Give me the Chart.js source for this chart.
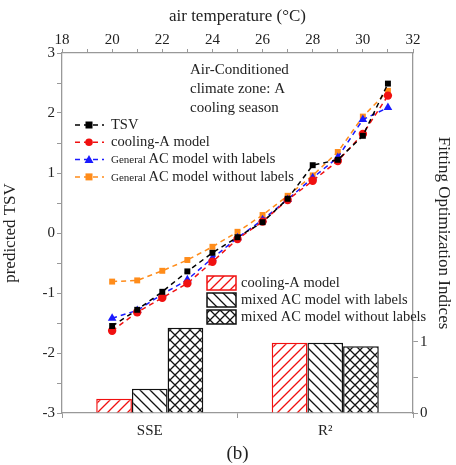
<!DOCTYPE html>
<html>
<head>
<meta charset="utf-8">
<script src="https://cdn.jsdelivr.net/npm/chart.js@4.4.1/dist/chart.umd.min.js"></script>
<style>
  html, body { margin: 0; padding: 0; background: #fff; }
  #wrap { position: relative; width: 456px; height: 465px; }
  #wrap canvas { position: absolute; left: 0; top: 0; }
</style>
</head>
<body>
<div id="wrap">
  <canvas id="bars" width="456" height="465"></canvas>
  <canvas id="lines" width="456" height="465"></canvas>
</div>
<script>
// air temperature (top axis)
var temps = [20, 21, 22, 23, 24, 25, 26, 27, 28, 29, 30, 31];
var tsv = [-1.55, -1.28, -0.98, -0.64, -0.33, -0.07, 0.18, 0.57, 1.13, 1.22, 1.62, 2.49];
var coolingA = [-1.63, -1.32, -1.08, -0.84, -0.48, -0.10, 0.19, 0.55, 0.87, 1.20, 1.65, 2.29];
var generalWith = [-1.42, -1.29, -1.02, -0.78, -0.42, -0.08, 0.22, 0.56, 0.92, 1.26, 1.89, 2.09];
var generalWithout = [-0.81, -0.79, -0.63, -0.45, -0.23, 0.02, 0.30, 0.62, 0.96, 1.35, 1.94, 2.37];

// fitting indices (bottom axis)
var indices = ["SSE", "R\u00B2"];
var barCoolingA = [0.20, 0.99];
var barMixedWith = [0.34, 0.99];
var barMixedWithout = [1.20, 0.94];

var serif = "'Liberation Serif', 'DejaVu Serif', serif";
var ink = "#222";
var axisGrey = "#999";
var tickFont = {family: serif, size: 15};
var titleFont = {family: serif, size: 17};

// box sizes shared by both charts so the plot areas line up
var LEFT = 62, RIGHT = 43, TOP = 53, BOTTOM = 52;

function hatch(color, dirs) {
    var c = document.createElement("canvas");
    c.width = 10; c.height = 10;
    var x = c.getContext("2d");
    x.fillStyle = "#fff";
    x.fillRect(0, 0, 10, 10);
    x.strokeStyle = color;
    x.lineWidth = 1.3;
    x.beginPath();
    if (dirs.indexOf("/") >= 0) {
        x.moveTo(-1, 11); x.lineTo(11, -1);
        x.moveTo(-6, 6); x.lineTo(6, -6);
        x.moveTo(4, 16); x.lineTo(16, 4);
    }
    if (dirs.indexOf("\\") >= 0) {
        x.moveTo(-1, -1); x.lineTo(11, 11);
        x.moveTo(-6, 4); x.lineTo(6, 16);
        x.moveTo(4, -6); x.lineTo(16, 6);
    }
    x.stroke();
    return c.getContext("2d").createPattern(c, "repeat");
}

function pts(ys) {
    return temps.map(function (t, i) { return {x: t, y: ys[i]}; });
}

function lineSet(label, ys, color, style) {
    return {
        label: label, data: pts(ys),
        borderColor: color, backgroundColor: color,
        borderWidth: 1.5, borderDash: [5, 4],
        pointStyle: style, pointRadius: style === "triangle" ? 5 : 4.2,
        pointBorderWidth: 0, tension: 0
    };
}

function barSet(label, vals, color, dirs) {
    return {
        label: label, data: vals,
        backgroundColor: hatch(color, dirs),
        borderColor: color, borderWidth: 1.5,
        barPercentage: 1, categoryPercentage: 0.61
    };
}

function fix(size, key) {
    return function (scale) { scale[key] = size; };
}

var lineLegend = {
    id: "lineLegend",
    afterDraw: function (chart) {
        var ctx = chart.ctx;
        ctx.save();
        ctx.fillStyle = ink;
        ctx.font = "15px " + serif;
        ctx.textBaseline = "middle";
        ctx.textAlign = "left";
        ["Air-Conditioned", "climate zone: A", "cooling season"].forEach(function (s, i) {
            ctx.fillText(s, 190, 70 + i * 19);
        });

        chart.data.datasets.forEach(function (d, i) {
            var y = 125 + i * 17.3;
            ctx.strokeStyle = d.borderColor;
            ctx.lineWidth = 1.5;
            ctx.setLineDash([5, 4]);
            ctx.beginPath();
            ctx.moveTo(75, y); ctx.lineTo(104, y);
            ctx.stroke();
            ctx.setLineDash([]);
            ctx.fillStyle = d.borderColor;
            var mx = 89;
            if (d.pointStyle === "rect") {
                ctx.fillRect(mx - 3.5, y - 3.5, 7, 7);
            } else if (d.pointStyle === "circle") {
                ctx.beginPath(); ctx.arc(mx, y, 3.8, 0, Math.PI * 2); ctx.fill();
            } else {
                ctx.beginPath(); ctx.moveTo(mx, y - 4.5); ctx.lineTo(mx + 4.5, y + 3.5); ctx.lineTo(mx - 4.5, y + 3.5); ctx.closePath(); ctx.fill();
            }
            ctx.fillStyle = ink;
            var x = 111;
            var label = d.label;
            if (label.indexOf("General ") === 0) {
                ctx.font = "11px " + serif;
                ctx.fillText("General", x, y + 1);
                x += ctx.measureText("General ").width;
                label = label.substring(8);
            }
            ctx.font = "14.5px " + serif;
            ctx.fillText(label, x, y);
        });
        ctx.restore();
    }
};

var barLegend = {
    id: "barLegend",
    afterDraw: function (chart) {
        var ctx = chart.ctx;
        ctx.save();
        ctx.textBaseline = "middle";
        ctx.textAlign = "left";
        chart.data.datasets.forEach(function (d, i) {
            var y = 283 + i * 17;
            ctx.fillStyle = d.backgroundColor;
            ctx.fillRect(207, y - 7, 29, 14);
            ctx.strokeStyle = d.borderColor;
            ctx.lineWidth = 1.5;
            ctx.strokeRect(207, y - 7, 29, 14);
            ctx.fillStyle = ink;
            ctx.font = "14.5px " + serif;
            ctx.fillText(d.label, 241, y);
        });
        ctx.restore();
    }
};

var common = {
    responsive: false,
    animation: false,
    plugins: {legend: {display: false}, tooltip: {enabled: false}}
};

// bottom / right axes: the bar chart
new Chart(document.getElementById("bars").getContext("2d"), {
    type: "bar",
    data: {
        labels: indices,
        datasets: [
            barSet("cooling-A model", barCoolingA, "#f01010", "/"),
            barSet("mixed AC model with labels", barMixedWith, "#111", "\\"),
            barSet("mixed AC model without labels", barMixedWithout, "#111", "/\\")
        ]
    },
    options: Object.assign({}, common, {
        layout: {padding: {left: LEFT, top: TOP, right: 0, bottom: 0}},
        scales: {
            x: {
                type: "category", position: "bottom", offset: true,
                afterFit: fix(BOTTOM, "height"),
                border: {color: axisGrey, width: 1.3},
                grid: {offset: true, drawOnChartArea: false, tickLength: 5, color: axisGrey},
                ticks: {color: ink, font: tickFont, padding: 4},
                title: {display: true, text: "(b)", color: ink, font: {family: serif, size: 19}, padding: {top: 0, bottom: 0}}
            },
            y: {
                type: "linear", position: "right", min: 0, max: 5.07,
                afterFit: fix(RIGHT, "width"),
                afterBuildTicks: function (scale) {
                    scale.ticks = [{value: 0}, {value: 0.5}, {value: 1}];
                },
                border: {color: axisGrey, width: 1.3},
                grid: {drawOnChartArea: false, tickLength: 5, color: axisGrey},
                ticks: {
                    color: ink, font: tickFont, padding: 2,
                    callback: function (v) { return v === 0 || v === 1 ? v : ""; }
                },
                title: {display: true, text: "Fitting Optimization Indices", color: ink, font: titleFont, padding: {top: 2, bottom: 0}}
            }
        }
    }),
    plugins: [barLegend]
});

// top / left axes: the line chart on top
new Chart(document.getElementById("lines").getContext("2d"), {
    type: "line",
    data: {
        datasets: [
            lineSet("TSV", tsv, "#000", "rect"),
            lineSet("cooling-A model", coolingA, "#f01010", "circle"),
            lineSet("General AC model with labels", generalWith, "#1a1aff", "triangle"),
            lineSet("General AC model without labels", generalWithout, "#ff8c1a", "rect")
        ]
    },
    options: Object.assign({}, common, {
        layout: {padding: {left: 0, top: 0, right: RIGHT, bottom: BOTTOM}},
        scales: {
            x: {
                type: "linear", position: "top", min: 18, max: 32,
                afterFit: fix(TOP, "height"),
                border: {color: axisGrey, width: 1.3},
                grid: {drawOnChartArea: false, tickLength: 4, color: axisGrey},
                ticks: {
                    stepSize: 1, autoSkip: false, maxRotation: 0, color: ink, font: tickFont, padding: 0,
                    callback: function (v) { return v % 2 === 0 ? v : ""; }
                },
                title: {display: true, text: "air temperature (\u00B0C)", color: ink, font: titleFont, padding: {top: 6, bottom: 0}}
            },
            y: {
                type: "linear", position: "left", min: -3, max: 3,
                afterFit: fix(LEFT, "width"),
                border: {color: axisGrey, width: 1.3},
                grid: {drawOnChartArea: false, tickLength: 5, color: axisGrey},
                ticks: {
                    stepSize: 0.5, autoSkip: false, color: ink, font: tickFont, padding: 2,
                    callback: function (v) { return Number.isInteger(v) ? v : ""; }
                },
                title: {display: true, text: "predicted TSV", color: ink, font: titleFont, padding: {top: 0, bottom: 8}}
            }
        }
    }),
    plugins: [lineLegend]
});
</script>
</body>
</html>
